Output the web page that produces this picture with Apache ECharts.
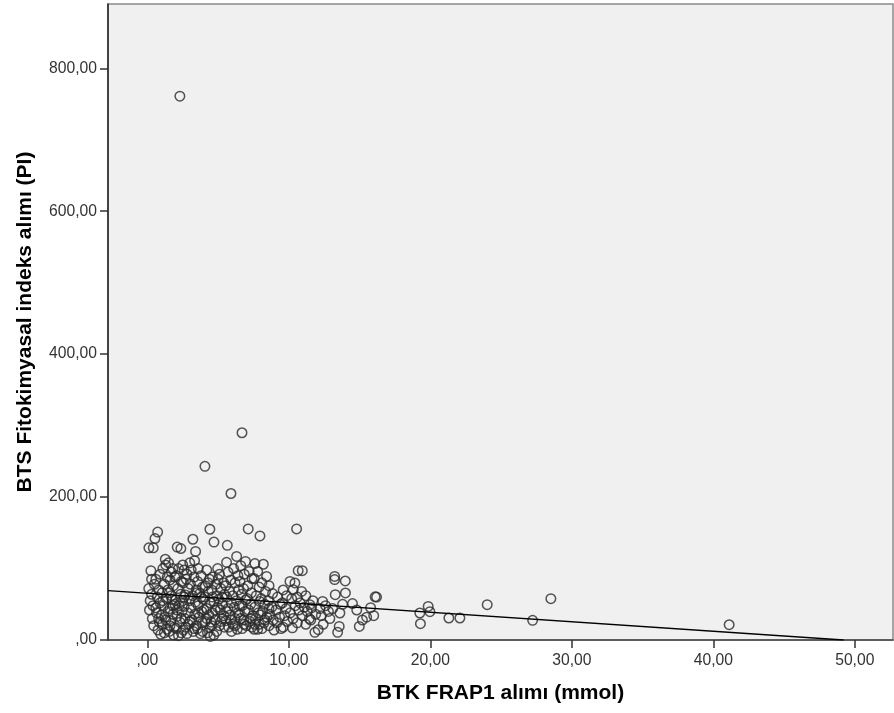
<!DOCTYPE html>
<html>
<head>
<meta charset="utf-8">
<script src="https://cdn.jsdelivr.net/npm/echarts@6/dist/echarts.min.js"></script>
<style>html,body{margin:0;padding:0;background:#fff}#c{width:894px;height:713px}</style>
</head>
<body>
<div id="c"></div>
<script>
// Axis titles and ticks
var xTitle = 'BTK FRAP1 alımı (mmol)';
var yTitle = 'BTS Fitokimyasal indeks alımı (PI)';
var xTicks = [0, 10, 20, 30, 40, 50];
var yTicks = [0, 200, 400, 600, 800];
var xRange = [-2.78, 52.7];
var yRange = [0, 890];

// Fit line (linear regression) parameters
var fitIntercept = 65.3;
var fitSlope = -1.327;

// Outlying cases
var outliers = [[2.3,761],[4.07,243],[5.91,205],[6.69,290]];

// Main cloud of cases [FRAP1, PI]
var cloudLow = [
 [0.25,97],[0.1,72],[0.3,64],[0.2,55],[0.15,42],[0.4,48],[0.35,30],[0.45,20],[0.5,78],[0.11,129],[0.42,129],
 [0.54,142],[0.73,151],[0.6,85],[0.8,70],[0.7,60],[0.9,52],[0.65,38],[0.85,25],[0.75,14],[0.95,8],[0.6,45],[0.9,92],
 [1.27,113],[1.1,100],[1.4,88],[1.2,78],[1.05,66],[1.35,58],[1.15,48],[1.45,40],[1.25,32],[1.05,22],[1.4,15],[1.2,10],[1.45,70],[1.3,105],
 [1.5,108],[1.7,95],[1.6,84],[1.85,76],[1.55,66],[1.75,57],[1.95,50],[1.6,44],[1.8,36],[1.65,27],[1.9,18],[1.55,12],[1.85,7],[1.7,62],[1.95,88],
 [2.11,130],[2.37,128],[2.2,100],[2.05,90],[2.4,82],[2.15,72],[2.35,64],[2.0,56],[2.25,48],[2.45,40],[2.1,33],[2.3,25],[2.05,16],[2.4,10],[2.2,6],[2.5,55],
 [2.6,98],[2.8,92],[2.55,80],[2.9,72],[2.7,63],[2.95,55],[2.6,47],[2.85,38],[2.65,30],[2.9,22],[2.55,14],[2.8,9],[2.75,85],
 [3.22,141],[3.41,124],[3.34,111],[3.1,98],[3.3,88],[3.05,78],[3.45,70],[3.2,62],[3.4,53],[3.1,45],[3.35,36],[3.15,28],[3.45,20],[3.25,12],[3.05,58],
 [3.6,100],[3.8,90],[3.55,82],[3.9,74],[3.7,65],[3.95,57],[3.6,48],[3.85,40],[3.65,32],[3.9,24],[3.55,16],[3.75,9],[3.8,60],
 [1.0,35],[1.3,28],[1.6,20],[2.1,42],[2.4,30],[2.7,18],[3.0,26],[3.3,16],[3.6,38],[3.9,12],
 [1.8,100],[2.5,105],[3.0,108],[1.1,55],[1.8,48],[2.6,60],[3.5,66],[0.3,85],[0.8,30]
];
var cloudMid = [
 [4.42,155],[4.2,98],[4.4,85],[4.1,76],[4.3,68],[4.05,60],[4.45,52],[4.2,44],[4.35,35],[4.1,26],[4.4,17],[4.25,10],[4.45,5],
 [4.71,137],[4.97,100],[4.6,88],[4.85,78],[4.55,70],[4.9,62],[4.7,54],[4.95,46],[4.6,38],[4.8,28],[4.55,20],[4.9,12],[4.7,7],
 [5.1,92],[5.4,80],[5.2,72],[5.45,64],[5.05,57],[5.3,50],[5.15,42],[5.4,34],[5.2,26],[5.45,18],[5.3,60],
 [5.65,132.5],[5.6,108.7],[5.7,95],[5.9,84],[5.55,76],[5.8,68],[5.6,60],[5.95,52],[5.7,44],[5.85,35],[5.55,27],[5.75,18],[5.95,12],
 [6.31,117],[6.1,100],[6.4,90],[6.2,80],[6.45,70],[6.05,62],[6.3,55],[6.15,46],[6.4,38],[6.2,30],[6.05,22],[6.35,15],[6.5,48],
 [6.94,110],[6.6,104],[6.85,92],[6.55,82],[6.8,72],[6.65,64],[6.95,56],[6.7,48],[6.9,40],[6.6,30],[6.85,22],[6.7,16],
 [7.13,155.5],[7.2,96],[7.4,86],[7.1,76],[7.35,66],[7.05,58],[7.3,50],[7.15,42],[7.45,34],[7.25,26],[7.4,18],
 [7.6,107],[7.96,145.7],[7.8,96],[7.55,86],[7.9,74],[7.7,62],[7.95,54],[7.6,46],[7.85,38],[7.65,30],[7.9,22],[7.55,15],
 [8.2,106],[8.43,89],[8.1,80],[8.35,68],[8.05,58],[8.3,50],[8.15,40],[8.45,32],[8.25,24],[8.1,16],
 [4.2,30],[4.5,25],[4.8,42],[5.1,20],[5.3,30],[5.6,40],[5.9,28],[6.2,20],[6.5,35],[6.8,28],
 [7.0,20],[7.3,30],[7.6,22],[7.8,15],[8.0,35],[8.3,28],[4.3,80],[5.0,85],[4.0,42],[4.6,60]
];
var cloudHigh = [
 [8.6,76],[8.85,65],[8.55,55],[8.8,46],[8.65,36],[8.9,28],[8.6,20],[8.95,14],[8.6,44],
 [9.2,60],[9.4,50],[9.1,42],[9.35,32],[9.15,24],[9.45,16],
 [9.6,70],[9.85,62],[9.55,52],[9.8,44],[9.7,34],[9.9,26],[9.6,18],
 [10.08,82],[10.43,79.8],[10.31,70.4],[10.2,58],[10.45,48],[10.1,38],[10.3,30],[10.25,17],
 [10.55,155.5],[10.66,97],[10.95,97],[10.9,68],[10.6,60],[10.8,52],[10.7,42],[10.95,34],[10.6,24],
 [11.2,62],[11.49,49.4],[11.3,40],[11.1,46],[11.45,30],[11.2,22],
 [11.84,10.7],[11.6,45],[11.9,36],[11.7,55],[11.55,28],
 [12.08,14.4],[12.43,22],[12.39,54],[12.2,44],[12.3,34],
 [12.6,48],[12.8,40],[12.9,30],
 [13.24,89],[13.24,84.5],[13.28,63.4],[13.61,37.8],[13.56,19],[13.45,10.7],[13.99,82.6],[14.0,65.8],[13.1,44],[13.8,50],
 [14.5,51],[14.98,19],[15.5,32],[15.78,45.2],[16.0,34],[16.2,60],[16.1,60.5],[14.8,42],[15.2,28],
 [19.26,37.8],[19.3,22.8],[19.85,47],[19.97,39.6],[21.31,30.8],[22.09,30.8],[24.02,49.4],[27.23,27.5],[28.52,57.8],[41.12,21.4]
];

var allPoints = cloudLow.concat(cloudMid, cloudHigh, outliers);
var fitEndX = -fitIntercept / fitSlope;
var fitLine = [[xRange[0], fitIntercept + fitSlope * xRange[0]], [fitEndX, 0]];

function fmt(v) {
  if (v === 0) return ',00';
  return v.toFixed(2).replace('.', ',');
}

var chart = echarts.init(document.getElementById('c'));
chart.setOption({
  animation: false,
  backgroundColor: '#ffffff',
  grid: {left: 108, top: 4, width: 785, height: 636, show: true, backgroundColor: '#f0f0f0', borderColor: '#8a8a8a', borderWidth: 1.5},
  xAxis: {
    type: 'value', min: xRange[0], max: xRange[1],
    name: xTitle, nameLocation: 'middle', nameGap: 43,
    nameTextStyle: {fontFamily: 'Liberation Sans', fontWeight: 'bold', fontSize: 21, color: '#000'},
    axisLine: {show: true, onZero: false, lineStyle: {color: '#444', width: 1.5}},
    axisTick: {show: true, length: 8, customValues: xTicks, lineStyle: {color: '#333', width: 1.5}},
    axisLabel: {customValues: xTicks, formatter: fmt, margin: 13, fontFamily: 'Liberation Sans', fontSize: 15.7, color: '#333'},
    splitLine: {show: false}
  },
  yAxis: {
    type: 'value', min: yRange[0], max: yRange[1],
    name: yTitle, nameLocation: 'middle', nameGap: 72,
    nameTextStyle: {fontFamily: 'Liberation Sans', fontWeight: 'bold', fontSize: 21, color: '#000'},
    axisLine: {show: true, onZero: false, lineStyle: {color: '#222', width: 1.5}},
    axisTick: {show: true, length: 8, customValues: yTicks, lineStyle: {color: '#333', width: 1.5}},
    axisLabel: {customValues: yTicks, formatter: fmt, margin: 11, fontFamily: 'Liberation Sans', fontSize: 15.7, color: '#333'},
    splitLine: {show: false}
  },
  series: [
    {
      type: 'scatter', data: allPoints, symbol: 'circle', symbolSize: 9.5,
      itemStyle: {color: 'rgba(0,0,0,0)', borderColor: '#2a2a2a', borderWidth: 1.5},
      emphasis: {disabled: true}
    },
    {
      type: 'line', data: fitLine, symbol: 'none', silent: true,
      lineStyle: {color: '#000', width: 1.3}
    }
  ]
});
</script>
</body>
</html>
